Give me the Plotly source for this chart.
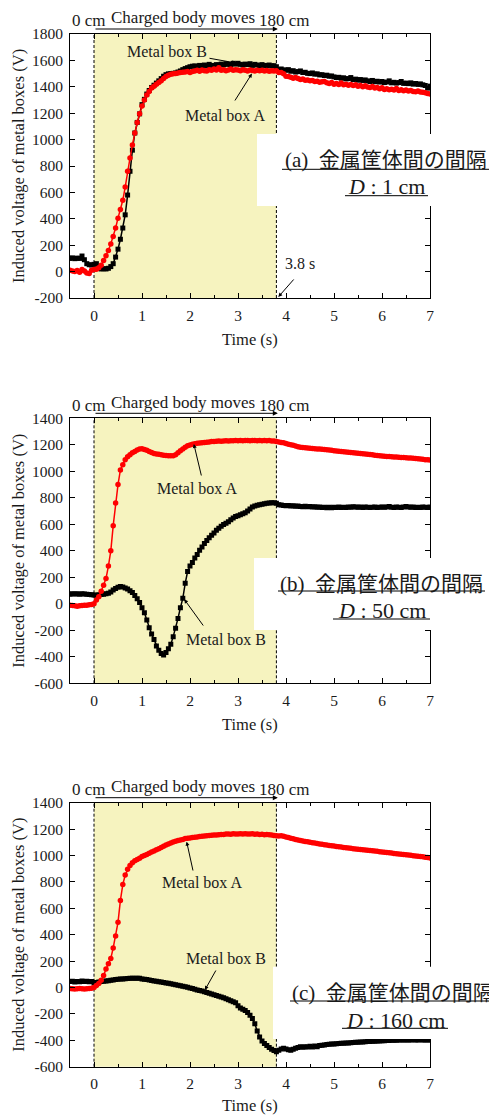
import plotly.graph_objects as go

# page has an 8px body margin: figure is drawn at (8, 8)
OX, OY = 8, 8
W, H = 497 - OX, 1115 - OY

# sampling instants (s)
t = [round(-0.5 + 0.05 * i, 2) for i in range(151)]

# ---- (a) D = 1 cm ----
a_B = [
    100, 104, 98, 102, 100, 118, 90, 60, 52, 50,
    55, 60, 28, 20, 22, 20, 25, 38, 60, 110,
    170, 245, 330, 430, 580, 760, 920, 1050, 1130, 1195,
    1265, 1305, 1345, 1372, 1395, 1412, 1428, 1445, 1462, 1480,
    1492, 1498, 1500, 1502, 1505, 1512, 1520, 1530, 1538, 1545,
    1552, 1556, 1558, 1555, 1562, 1560, 1565, 1558, 1570, 1562,
    1560, 1568, 1565, 1572, 1566, 1575, 1570, 1568, 1578, 1572,
    1578, 1570, 1565, 1572, 1568, 1575, 1562, 1570, 1565, 1560,
    1568, 1562, 1560, 1565, 1558, 1560, 1552, 1530, 1535, 1528,
    1525, 1530, 1518, 1522, 1512, 1515, 1520, 1508, 1510, 1502,
    1500, 1505, 1496, 1498, 1490, 1492, 1485, 1488, 1480, 1482,
    1475, 1470, 1472, 1465, 1468, 1460, 1462, 1470, 1455, 1458,
    1450, 1455, 1448, 1452, 1445, 1440, 1448, 1438, 1442, 1436,
    1440, 1432, 1436, 1445, 1430, 1434, 1428, 1432, 1440, 1426,
    1428, 1424, 1430, 1420, 1425, 1418, 1422, 1415, 1410, 1390,
    1405]
a_A = [
    10, 5, 0, 8, -5, 15, 5, -10, -15, 10,
    15, 18, 30, 48, 85, 120, 160, 210, 265, 330,
    405, 470, 540, 640, 760, 860, 960, 1050, 1130, 1195,
    1255, 1300, 1338, 1365, 1390, 1405, 1420, 1432, 1445, 1462,
    1478, 1488, 1495, 1498, 1500, 1505, 1508, 1510, 1512, 1515,
    1508, 1515, 1520, 1525, 1518, 1528, 1522, 1520, 1530, 1525,
    1535, 1528, 1545, 1525, 1530, 1522, 1528, 1535, 1525, 1530,
    1527, 1522, 1530, 1525, 1520, 1528, 1524, 1520, 1526, 1522,
    1525, 1520, 1524, 1518, 1522, 1520, 1522, 1508, 1508, 1498,
    1480, 1478, 1472, 1465, 1470, 1462, 1455, 1460, 1450, 1452,
    1445, 1448, 1440, 1442, 1435, 1438, 1440, 1430, 1425, 1432,
    1420, 1425, 1418, 1428, 1415, 1420, 1412, 1418, 1410, 1415,
    1405, 1410, 1400, 1408, 1398, 1395, 1402, 1390, 1395, 1385,
    1392, 1380, 1386, 1378, 1382, 1375, 1388, 1372, 1378, 1370,
    1375, 1368, 1372, 1365, 1362, 1368, 1360, 1358, 1355, 1350,
    1345]

# ---- (b) D = 50 cm ----
b_A = [
    -10, -12, -15, -18, -15, -12, -10, -10, -8, -5,
    0, 28, 54, 95, 140, 190, 285, 400, 590, 760,
    900, 1010, 1050, 1088, 1110, 1125, 1140, 1150, 1160, 1168,
    1170, 1165, 1158, 1150, 1142, 1135, 1130, 1128, 1125, 1122,
    1120, 1118, 1117, 1118, 1125, 1140, 1155, 1168, 1182, 1192,
    1198, 1204, 1208, 1212, 1214, 1216, 1218, 1220, 1222, 1224,
    1225, 1226, 1228, 1227, 1229, 1230, 1229, 1231, 1230, 1232,
    1231, 1232, 1230, 1233, 1232, 1231, 1233, 1232, 1230, 1232,
    1231, 1233, 1230, 1232, 1229, 1228, 1225, 1222, 1218, 1215,
    1210, 1205, 1200, 1196, 1190, 1186, 1182, 1180, 1178, 1176,
    1174, 1172, 1171, 1169, 1168, 1166, 1164, 1162, 1160, 1158,
    1156, 1154, 1152, 1150, 1148, 1146, 1144, 1142, 1140, 1138,
    1136, 1134, 1132, 1130, 1128, 1126, 1124, 1122, 1120, 1118,
    1116, 1114, 1112, 1112, 1110, 1108, 1108, 1106, 1104, 1104,
    1102, 1100, 1100, 1098, 1096, 1095, 1093, 1090, 1088, 1087,
    1085]
b_B = [
    72, 75, 74, 76, 73, 75, 74, 72, 70, 68,
    66, 65, 68, 70, 72, 75, 80, 90, 105, 115,
    125, 130, 126, 120, 112, 98, 85, 62, 38, 10,
    -30, -68, -122, -180, -228, -270, -318, -350, -375, -386,
    -368, -340, -305, -248, -185, -110, -30, 41, 155, 243,
    285, 312, 345, 372, 405, 428, 455, 478, 498, 518,
    535, 555, 570, 585, 598, 608, 620, 635, 648, 658,
    665, 672, 680, 688, 700, 715, 730, 738, 744, 748,
    752, 755, 758, 760, 763, 762, 758, 748, 745, 742,
    740, 742, 738, 740, 736, 738, 735, 733, 736, 732,
    734, 730, 732, 728, 730, 726, 728, 725, 728, 724,
    728, 726, 730, 727, 729, 726, 730, 728, 732, 730,
    728, 730, 727, 731, 729, 726, 728, 730, 727, 729,
    731, 728, 730, 734, 729, 727, 731, 728, 726, 730,
    735, 730, 728, 731, 727, 729, 726, 730, 728, 727,
    730]

# ---- (c) D = 160 cm ----
c_A = [
    -8, -10, -12, -10, -8, -10, -12, -10, -8, -6,
    0, 15, 30, 55, 90, 140, 180, 220, 300, 390,
    494, 660, 780, 852, 895, 925, 945, 960, 970, 980,
    992, 1000, 1008, 1017, 1026, 1035, 1044, 1052, 1060, 1070,
    1080, 1088, 1095, 1102, 1108, 1113, 1118, 1122, 1128, 1130,
    1133, 1136, 1139, 1141, 1143, 1145, 1148, 1150, 1152, 1153,
    1155, 1156, 1158, 1159, 1160, 1162, 1163, 1161, 1164, 1163,
    1162, 1164, 1163, 1165, 1162, 1163, 1164, 1161, 1162, 1160,
    1161, 1158, 1160, 1157, 1155, 1152, 1150, 1148, 1150, 1146,
    1140, 1136, 1130, 1126, 1122, 1118, 1114, 1110, 1107, 1104,
    1100, 1097, 1094, 1091, 1088, 1085, 1082, 1080, 1076, 1074,
    1072, 1069, 1067, 1064, 1061, 1059, 1056, 1054, 1052, 1049,
    1048, 1046, 1044, 1042, 1040, 1038, 1036, 1034, 1032, 1029,
    1027, 1025, 1023, 1020, 1018, 1016, 1013, 1011, 1009, 1007,
    1005, 1003, 1001, 999, 996, 994, 992, 990, 987, 985,
    982]
c_B = [
    45, 48, 42, 46, 44, 50, 45, 48, 43, 45,
    35, 38, 42, 45, 48, 50, 52, 55, 57, 60,
    62, 64, 65, 66, 68, 70, 70, 71, 70, 70,
    65, 62, 60, 56, 53, 50, 47, 44, 41, 38,
    35, 32, 28, 25, 21, 17, 13, 9, 5, 1,
    -3, -8, -13, -18, -22, -27, -32, -38, -44, -50,
    -55, -60, -66, -72, -78, -85, -92, -100, -108, -116,
    -138, -155, -165, -175, -190, -210, -235, -275, -330, -375,
    -405, -425, -440, -455, -468, -478, -486, -475, -465, -460,
    -466, -472, -475, -468, -460, -455, -449, -452, -448, -450,
    -446, -450, -444, -448, -440, -438, -435, -432, -430, -428,
    -428, -426, -425, -423, -422, -420, -420, -418, -416, -415,
    -414, -413, -412, -411, -410, -410, -408, -407, -406, -405,
    -404, -403, -402, -401, -400, -400, -399, -398, -398, -397,
    -398, -397, -398, -396, -398, -397, -396, -398, -397, -398,
    -398]

x_ticks = [0, 1, 2, 3, 4, 5, 6, 7]
ya_ticks = [-200, 0, 200, 400, 600, 800, 1000, 1200, 1400, 1600, 1800]
ybc_ticks = [-600, -400, -200, 0, 200, 400, 600, 800, 1000, 1200, 1400]
move_start, move_end = 0.0, 3.8

panels = [
    dict(B=a_B, A=a_A, yr=[-200, 1800], yt=ya_ticks, top=34, bot=298,
         tag="(a)", dist="1 cm", tgap=42),
    dict(B=b_B, A=b_A, yr=[-600, 1400], yt=ybc_ticks, top=418.3, bot=683.3,
         tag="(b)", dist="50 cm", tgap=41),
    dict(B=c_B, A=c_A, yr=[-600, 1400], yt=ybc_ticks, top=802.7, bot=1066.7,
         tag="(c)", dist="160 cm", tgap=38.5),
]

SERIF = "Liberation Serif"
CJK = "Noto Sans CJK JP"
TXT = "#1a1a1a"
XL, XR = 70, 430


def px(x):
    return (x - OX) / W


def py(y):
    return 1 - (y - OY) / H


def text_ann(txt, x, y, size=16, family=SERIF, **kw):
    d = dict(text=txt, xref="paper", yref="paper", x=px(x), y=py(y),
             xanchor="center", yanchor="middle", showarrow=False,
             font=dict(family=family, size=size, color=TXT))
    d.update(kw)
    return d


fig = go.Figure()
shapes = []
ann = []
layout = {}

for i, p in enumerate(panels):
    k = "" if i == 0 else str(i + 1)
    xa, ya = "x" + k, "y" + k
    fig.add_trace(go.Scatter(x=t, y=p["B"], xaxis=xa, yaxis=ya, mode="lines+markers",
                             line=dict(color="black", width=1.5),
                             marker=dict(symbol="square", size=5, color="black"),
                             showlegend=False, cliponaxis=True))
    fig.add_trace(go.Scatter(x=t, y=p["A"], xaxis=xa, yaxis=ya, mode="lines+markers",
                             line=dict(color="#ff0000", width=1.5),
                             marker=dict(symbol="circle", size=5.5, color="#ff0000"),
                             showlegend=False, cliponaxis=True))
    common = dict(showline=True, linecolor="black", linewidth=1, mirror="ticks",
                  ticks="inside", tickcolor="black", ticklen=5, tickwidth=1,
                  showgrid=False, zeroline=False, automargin=False,
                  tickfont=dict(family=SERIF, size=15.5, color=TXT))
    layout["xaxis" + k] = dict(common, domain=[px(XL), px(XR)], range=[-0.5, 7],
                               anchor=ya, tickvals=x_ticks,
                               ticktext=[str(v) for v in x_ticks],
                               ticklabelstandoff=3,
                               minor=dict(dtick=0.5, tick0=0, ticks="inside", ticklen=3,
                                          tickcolor="black"))
    layout["yaxis" + k] = dict(common, domain=[py(p["bot"]), py(p["top"])], range=p["yr"],
                               anchor=xa, tickvals=p["yt"],
                               ticktext=[str(v) for v in p["yt"]],
                               ticklabelstandoff=3)
    # movement period shading
    shapes.append(dict(type="rect", xref=xa, yref=ya + " domain", x0=move_start, x1=move_end,
                       y0=0, y1=1, fillcolor="#f6f3bf", line=dict(width=0), layer="below"))
    for xv in (move_start, move_end):
        shapes.append(dict(type="line", xref=xa, yref=ya + " domain", x0=xv, x1=xv, y0=0, y1=1,
                           line=dict(color="black", width=1, dash="3px,2px"), layer="below"))
    # axis titles
    mid = (p["top"] + p["bot"]) / 2
    ann.append(text_ann("Induced voltage of metal boxes (V)", 19, mid, size=16.5,
                        textangle=-90))
    ann.append(text_ann("Time (s)", 250, p["bot"] + p["tgap"], size=16.5))
    # movement arrow above the panel
    arr_y = p["top"] - 5
    ann.append(dict(text="", xref=xa, yref="paper", x=move_end + 0.03, y=py(arr_y),
                    ax=-(move_end + 0.03 - move_start) * 48, ay=0, showarrow=True,
                    arrowhead=2, arrowsize=1, arrowwidth=1, arrowcolor="black"))
    ann.append(text_ann("0 cm", 89, p["top"] - 13, size=17))
    ann.append(text_ann("Charged body moves", 183, p["top"] - 16, size=17))
    ann.append(text_ann("180 cm", 284, p["top"] - 13, size=17))

# white label boxes with captions
boxes = [
    dict(x0=257, y0=134, y1=206, l1=159.3, u1=169.3, x1a=282, x1b=490,
         l2=186.7, u2=195.7, x2a=345, x2b=428),
    dict(x0=254, y0=558, y1=630, l1=582.7, u1=591, x1a=278, x1b=485,
         l2=610, u2=619, x2a=333, x2b=430),
    dict(x0=273, y0=966.7, y1=1039, l1=991.7, u1=1001, x1a=290, x1b=495,
         l2=1020, u2=1028.3, x2a=342, x2b=448),
]
for p, b in zip(panels, boxes):
    shapes.append(dict(type="rect", xref="paper", yref="paper", x0=px(b["x0"]), x1=1.0,
                       y0=py(b["y1"]), y1=py(b["y0"]), fillcolor="white",
                       line=dict(width=0), layer="above"))
    for (yy, xa_, xb_) in ((b["u1"], b["x1a"], b["x1b"]), (b["u2"], b["x2a"], b["x2b"])):
        shapes.append(dict(type="line", xref="paper", yref="paper", x0=px(xa_),
                           x1=px(min(xb_, 496.5)), y0=py(yy), y1=py(yy),
                           line=dict(color="black", width=1), layer="above"))
    line1 = (f"<span style=\"font-family:Liberation Serif\">{p['tag']}</span>\u2002"
             f"金属筐体間の間隔")
    ann.append(text_ann(line1, (b["x1a"] + b["x1b"]) / 2, b["l1"] - 1, size=21, family=CJK))
    ann.append(text_ann(f"<i>D</i> : {p['dist']}", (b["x2a"] + b["x2b"]) / 2, b["l2"],
                        size=22))

# curve labels with arrows (head in data coords, tail in px)
labels = [
    ("x", "y", "Metal box B", (167, 52), (2.96, 1580), (208, 58)),
    ("x", "y", "Metal box A", (225, 116), (3.29, 1500), (234, 102)),
    ("x", "y", "3.8 s", (299.5, 264), (3.84, -192), (295, 278)),
    ("x2", "y2", "Metal box A", (196.5, 488), (2.08, 1206), (201.7, 477)),
    ("x2", "y2", "Metal box B", (226, 639), (1.88, 34), (204.3, 627)),
    ("x3", "y3", "Metal box A", (201.5, 882.5), (1.93, 1105), (193.3, 872)),
    ("x3", "y3", "Metal box B", (226, 958), (2.31, -19), (216.7, 969)),
]
for xr, yr, txt, (tx, ty), (hx, hy), (ax_, ay_) in labels:
    ann.append(text_ann(txt, tx, ty))
    hpx = 94 + hx * 48
    idx = {"y": 0, "y2": 1, "y3": 2}[yr]
    pp = panels[idx]
    hpy = pp["top"] + (pp["yr"][1] - hy) / (pp["yr"][1] - pp["yr"][0]) * (pp["bot"] - pp["top"])
    ann.append(dict(text="", xref=xr, yref=yr, x=hx, y=hy, ax=ax_ - hpx, ay=ay_ - hpy,
                    showarrow=True, arrowhead=2, arrowsize=0.8, arrowwidth=1,
                    arrowcolor="black"))

fig.update_layout(width=W, height=H, margin=dict(l=0, r=0, t=0, b=0, autoexpand=False),
                  paper_bgcolor="white", plot_bgcolor="rgba(0,0,0,0)",
                  shapes=shapes, annotations=ann, showlegend=False, **layout)

fig.write_html("out.html")
